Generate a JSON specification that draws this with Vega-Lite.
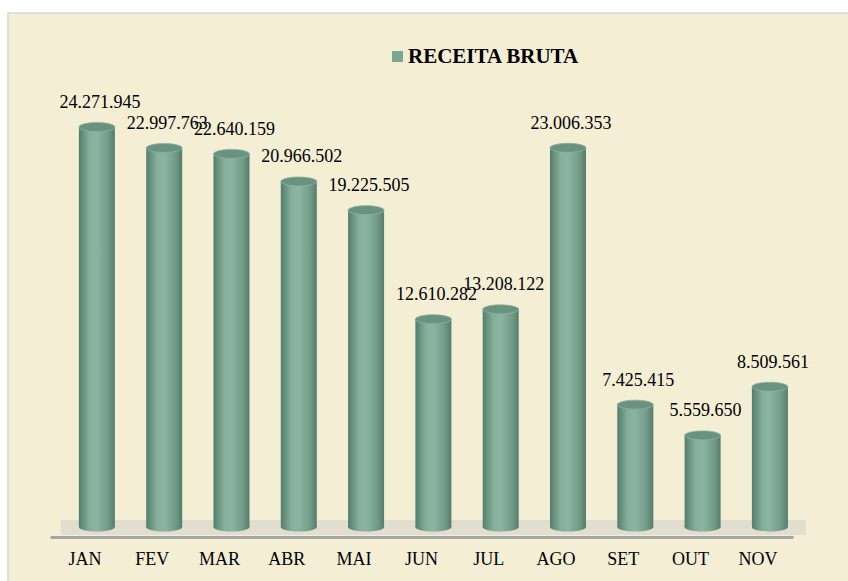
{
  "$schema": "https://vega.github.io/schema/vega-lite/v6.json",
  "width": 842,
  "height": 570,
  "autosize": {"type": "none"},
  "padding": {"left": 8, "top": 13, "right": 0, "bottom": 0},
  "background": "#ffffff",
  "config": {
    "locale": {"number": {"decimal": ",", "thousands": ".", "grouping": [3], "currency": ["R$ ", ""]}},
    "view": {"fill": "#F3EED4", "stroke": "#D6D6D6", "strokeWidth": 1.5},
    "font": "Times New Roman, Liberation Serif, serif"
  },
  "data": {
    "values": [
      {"mes": "JAN", "valor": 24271945, "serie": "RECEITA BRUTA"},
      {"mes": "FEV", "valor": 22997763, "serie": "RECEITA BRUTA"},
      {"mes": "MAR", "valor": 22640159, "serie": "RECEITA BRUTA"},
      {"mes": "ABR", "valor": 20966502, "serie": "RECEITA BRUTA"},
      {"mes": "MAI", "valor": 19225505, "serie": "RECEITA BRUTA"},
      {"mes": "JUN", "valor": 12610282, "serie": "RECEITA BRUTA"},
      {"mes": "JUL", "valor": 13208122, "serie": "RECEITA BRUTA"},
      {"mes": "AGO", "valor": 23006353, "serie": "RECEITA BRUTA"},
      {"mes": "SET", "valor": 7425415, "serie": "RECEITA BRUTA"},
      {"mes": "OUT", "valor": 5559650, "serie": "RECEITA BRUTA"},
      {"mes": "NOV", "valor": 8509561, "serie": "RECEITA BRUTA"}
    ]
  },
  "encoding": {
    "x": {
      "field": "mes",
      "type": "nominal",
      "sort": null,
      "scale": {"range": [42, 785], "paddingInner": 0.465, "paddingOuter": 0.2525, "align": 0.85},
      "axis": {
        "title": null,
        "orient": "bottom",
        "offset": -46,
        "labelAngle": 0,
        "ticks": false,
        "domainColor": "#A6A6A6",
        "domainWidth": 3,
        "labelFont": "Times New Roman, Liberation Serif, serif",
        "labelFontSize": 18,
        "labelColor": "#000000",
        "labelPadding": 13,
        "labelOffset": -12
      }
    }
  },
  "layer": [
    {
      "mark": {"type": "bar", "fill": "#E2DECF", "width": {"band": 2.0}},
      "encoding": {
        "y": {"datum": 425000, "type": "quantitative", "scale": {"domain": [-3398000, 31190000], "nice": false, "zero": false}, "axis": null},
        "y2": {"datum": -485000}
      }
    },
    {
      "mark": {
        "type": "bar",
        "fill": {
          "gradient": "linear", "x1": 0, "x2": 1, "y1": 0, "y2": 0,
          "stops": [
            {"offset": 0, "color": "#557D6C"},
            {"offset": 0.3, "color": "#86B09C"},
            {"offset": 0.5, "color": "#8BB5A2"},
            {"offset": 0.8, "color": "#739D89"},
            {"offset": 1, "color": "#557D6C"}
          ]
        }
      },
      "encoding": {
        "y": {"field": "valor", "type": "quantitative"}
      }
    },
    {
      "mark": {
        "type": "point",
        "shape": "M -1 0 A 1 0.25 0 1 0 1 0 A 1 0.25 0 1 0 -1 0 Z",
        "size": 1296,
        "filled": true,
        "opacity": 1,
        "strokeWidth": 0,
        "fill": {
          "gradient": "linear", "x1": 0, "x2": 1, "y1": 0, "y2": 0,
          "stops": [
            {"offset": 0, "color": "#557D6C"},
            {"offset": 0.3, "color": "#86B09C"},
            {"offset": 0.5, "color": "#8BB5A2"},
            {"offset": 0.8, "color": "#739D89"},
            {"offset": 1, "color": "#557D6C"}
          ]
        }
      },
      "encoding": {
        "y": {"datum": 0, "type": "quantitative"}
      }
    },
    {
      "mark": {
        "type": "point",
        "shape": "M -1 0 A 1 0.25 0 1 0 1 0 A 1 0.25 0 1 0 -1 0 Z",
        "size": 1296,
        "filled": true,
        "opacity": 1,
        "fill": "#6A9281",
        "stroke": "#8DB4A2",
        "strokeWidth": 0.8
      },
      "encoding": {
        "y": {"field": "valor", "type": "quantitative"}
      }
    },
    {
      "mark": {"type": "text", "font": "Times New Roman, Liberation Serif, serif", "fontSize": 18, "color": "#000000", "dx": 3, "dy": -24, "baseline": "middle"},
      "encoding": {
        "y": {"field": "valor", "type": "quantitative"},
        "text": {"field": "valor", "type": "quantitative", "format": ",d"}
      }
    },
    {
      "mark": {"type": "point", "filled": true, "opacity": 0},
      "encoding": {
        "y": {"field": "valor", "type": "quantitative"},
        "color": {
          "field": "serie",
          "type": "nominal",
          "scale": {"range": ["#7BA595"]},
          "legend": {
            "title": null,
            "orient": "none",
            "legendX": 379,
            "legendY": 33,
            "padding": 0,
            "symbolType": "square",
            "symbolSize": 121,
            "symbolOpacity": 1,
            "symbolStrokeWidth": 0,
            "labelFont": "Times New Roman, Liberation Serif, serif",
            "labelFontSize": 21,
            "labelFontWeight": "bold",
            "labelColor": "#000000",
            "labelOffset": 0,
            "labelLimit": 0
          }
        }
      }
    }
  ]
}
